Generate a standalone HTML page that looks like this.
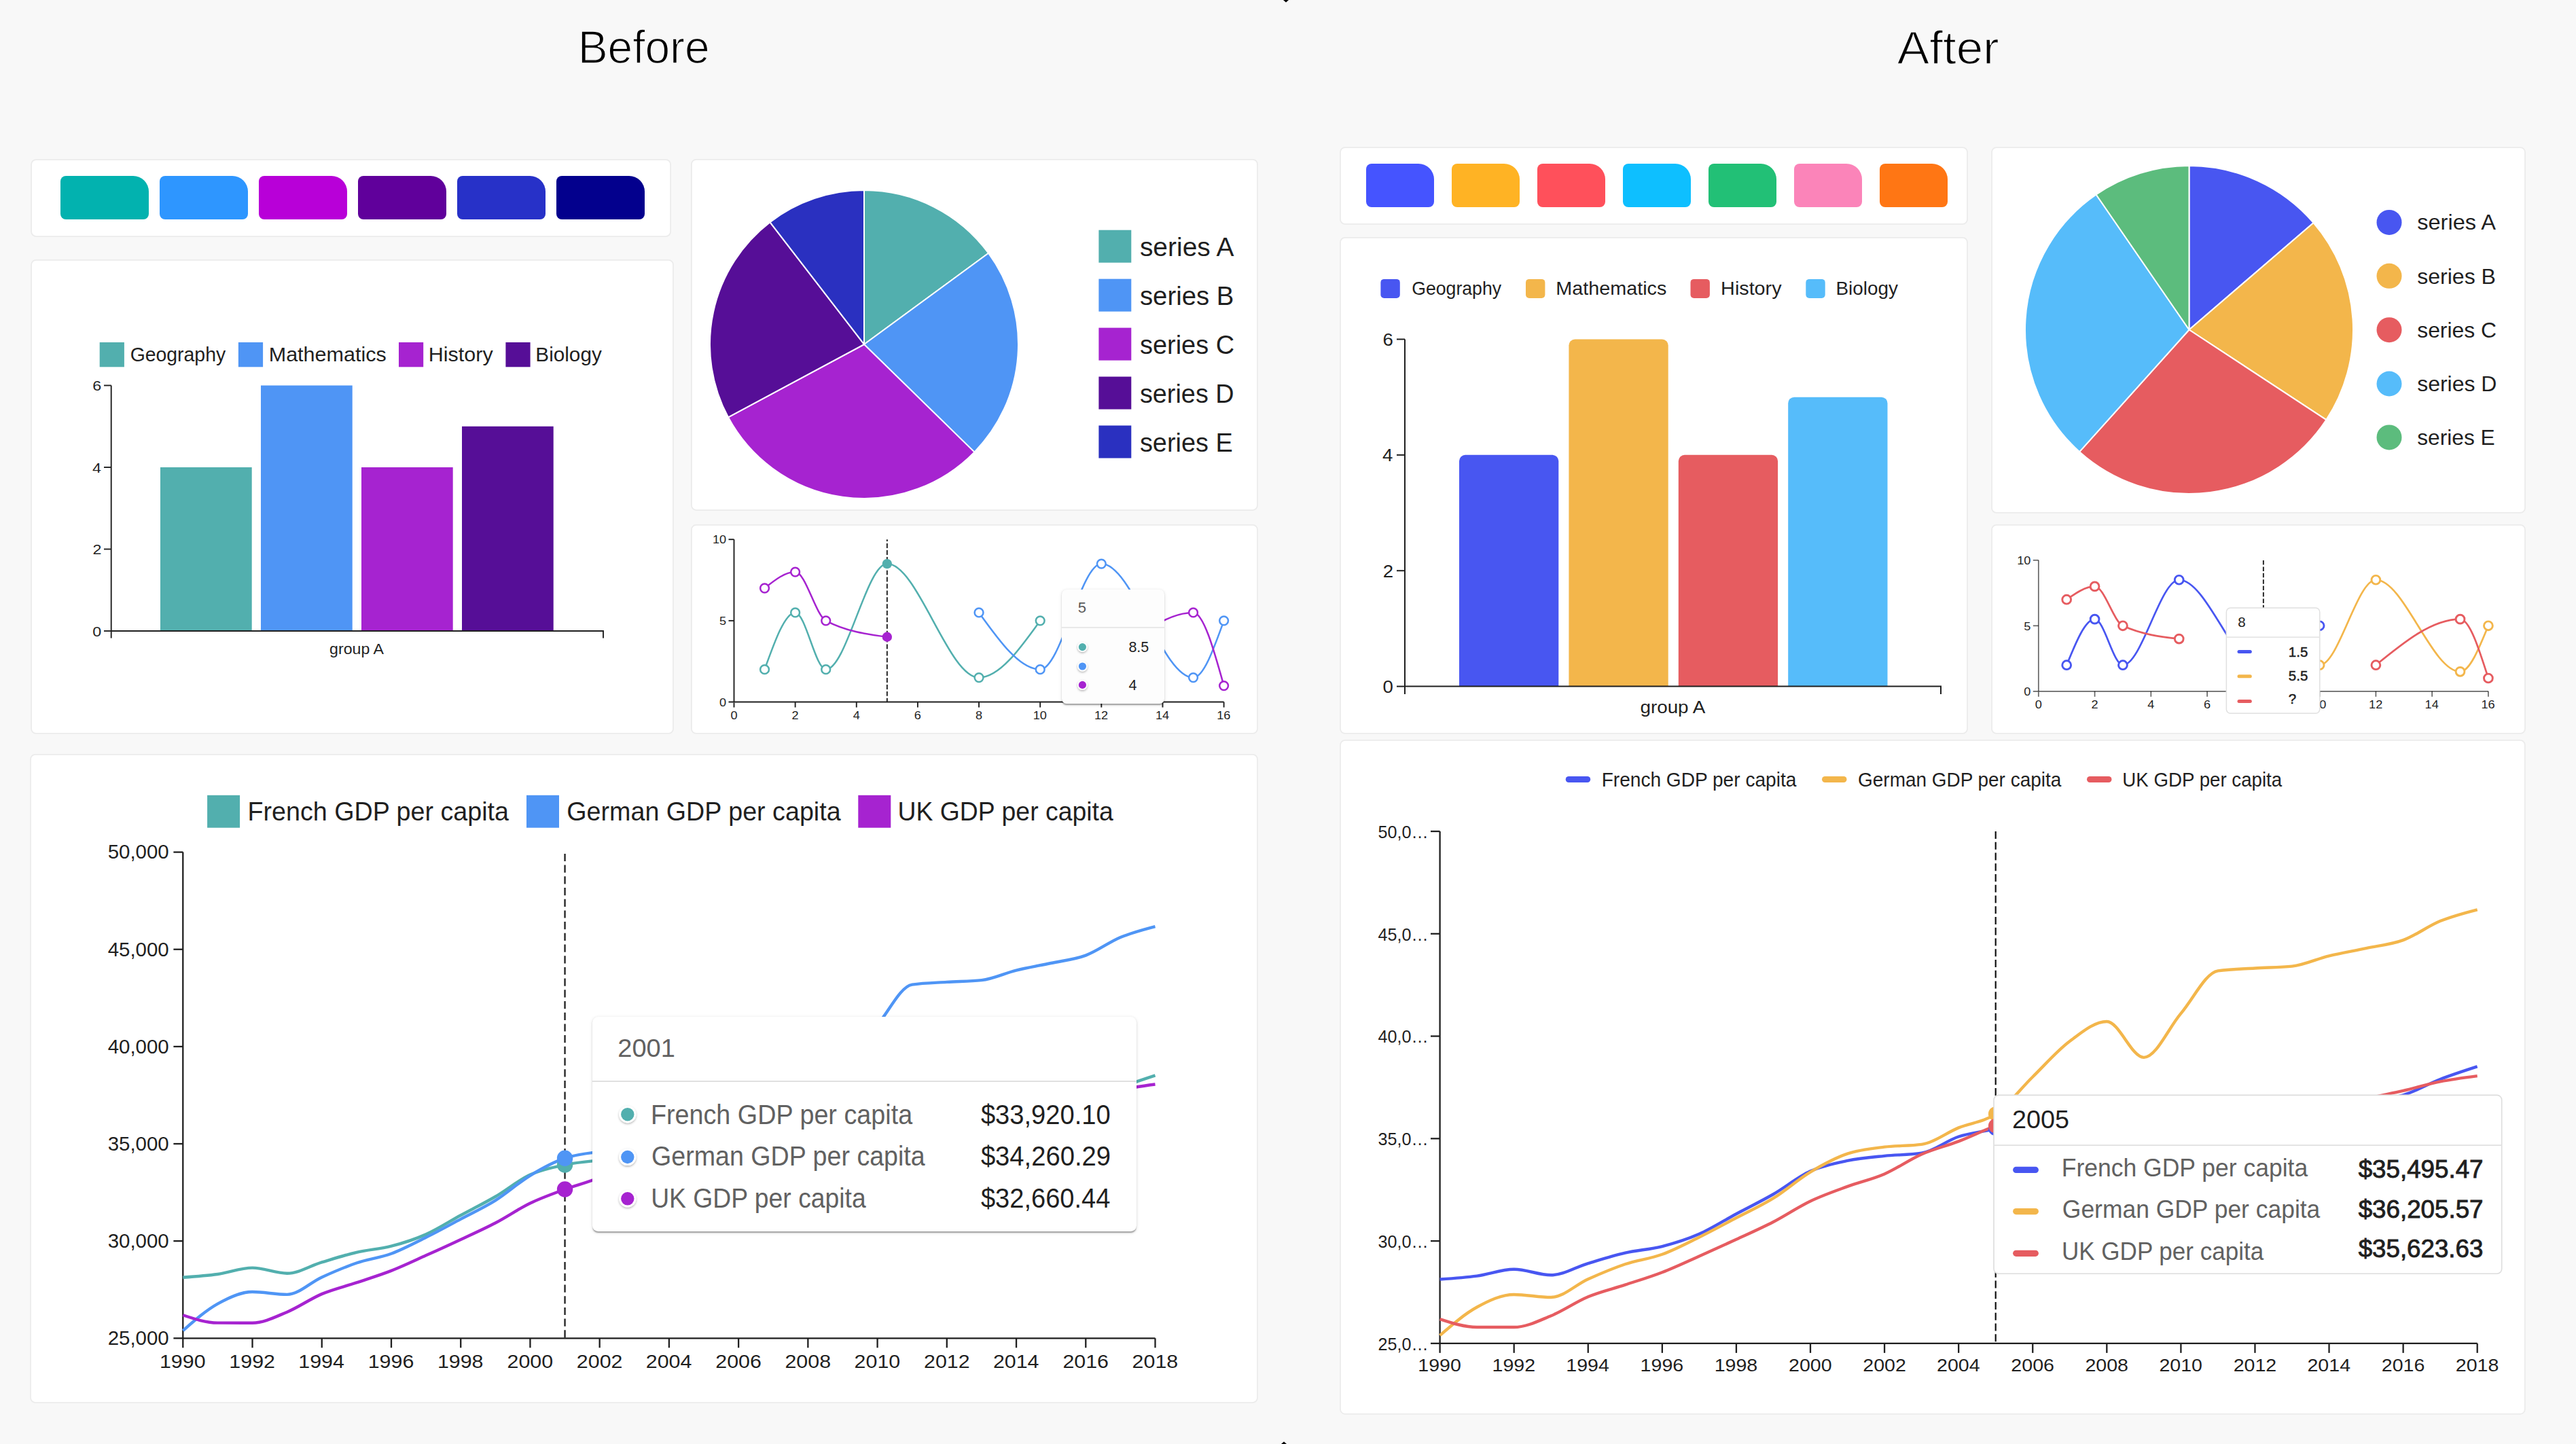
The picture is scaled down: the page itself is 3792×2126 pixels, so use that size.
<!DOCTYPE html>
<html><head><meta charset="utf-8"><title>Before / After</title>
<style>
html,body{margin:0;padding:0;background:#f8f8f8;}
body{width:3792px;height:2126px;overflow:hidden;font-family:"Liberation Sans", sans-serif;position:relative;}
svg{display:block;font-family:"Liberation Sans", sans-serif;position:absolute;left:0;top:0;}
.tt{position:absolute;box-sizing:border-box;box-shadow:0 3.5px 1.75px -1.75px rgba(0,0,0,0.2), 0 1.75px 1.75px 0 rgba(0,0,0,0.14), 0 1.75px 5.25px 0 rgba(0,0,0,0.12);}
</style></head>
<body>
<svg width="3792" height="2126" viewBox="0 0 3792 2126">
<rect width="3792" height="2126" fill="#f8f8f8"/>
<text x="850.7" y="93.4" font-size="68.46" fill="#000" textLength="193.91" lengthAdjust="spacingAndGlyphs" stroke="#f8f8f8" stroke-width="1.4">Before</text>
<text x="2792.86" y="93.5" font-size="68.31" fill="#000" textLength="149.87" lengthAdjust="spacingAndGlyphs" stroke="#f8f8f8" stroke-width="1.4">After</text>
<rect x="46.1" y="235" width="941" height="113" rx="7" fill="#fff" stroke="#ebebeb" stroke-width="1.75"/>
<path d="M97,259H196A23,23 0 0 1 219,282V315A8,8 0 0 1 211,323H97A8,8 0 0 1 89,315V267A8,8 0 0 1 97,259Z" fill="#02B2AF"/>
<path d="M243,259H342A23,23 0 0 1 365,282V315A8,8 0 0 1 357,323H243A8,8 0 0 1 235,315V267A8,8 0 0 1 243,259Z" fill="#2E96FF"/>
<path d="M389,259H488A23,23 0 0 1 511,282V315A8,8 0 0 1 503,323H389A8,8 0 0 1 381,315V267A8,8 0 0 1 389,259Z" fill="#B800D8"/>
<path d="M535,259H634A23,23 0 0 1 657,282V315A8,8 0 0 1 649,323H535A8,8 0 0 1 527,315V267A8,8 0 0 1 535,259Z" fill="#60009B"/>
<path d="M681,259H780A23,23 0 0 1 803,282V315A8,8 0 0 1 795,323H681A8,8 0 0 1 673,315V267A8,8 0 0 1 681,259Z" fill="#2731C8"/>
<path d="M827,259H926A23,23 0 0 1 949,282V315A8,8 0 0 1 941,323H827A8,8 0 0 1 819,315V267A8,8 0 0 1 827,259Z" fill="#03008D"/>
<rect x="46.1" y="382.9" width="944.9" height="697" rx="7" fill="#fff" stroke="#ebebeb" stroke-width="1.75"/>
<rect x="146.7" y="504" width="36.2" height="36.3" fill="#52AFAE"/>
<text x="191.68" y="531.8" font-size="29.51" fill="#1f1f1f" textLength="140.47" lengthAdjust="spacingAndGlyphs">Geography</text>
<rect x="350.9" y="504" width="36.2" height="36.3" fill="#4F95F5"/>
<text x="395.7" y="531.8" font-size="29.51" fill="#1f1f1f" textLength="173.12" lengthAdjust="spacingAndGlyphs">Mathematics</text>
<rect x="587" y="504" width="36.2" height="36.3" fill="#A623D0"/>
<text x="630.8" y="531.8" font-size="29.51" fill="#1f1f1f" textLength="94.87" lengthAdjust="spacingAndGlyphs">History</text>
<rect x="744.4" y="504" width="36.2" height="36.3" fill="#560E97"/>
<text x="788.37" y="531.8" font-size="29.51" fill="#1f1f1f" textLength="97.39" lengthAdjust="spacingAndGlyphs">Biology</text>
<rect x="236" y="688" width="134.7" height="241" fill="#52AFAE"/>
<rect x="384" y="567.5" width="134.7" height="361.5" fill="#4F95F5"/>
<rect x="532" y="688" width="134.7" height="241" fill="#A623D0"/>
<rect x="680" y="627.75" width="134.7" height="301.25" fill="#560E97"/>
<path d="M163.7,567.5V929H888V939.5M163.7,929V939.5" fill="none" stroke="#1f1f1f" stroke-width="1.9"/>
<line x1="153" y1="929" x2="163.7" y2="929" stroke="#1f1f1f" stroke-width="1.9"/>
<text x="136.16" y="936.76" font-size="20.8" fill="#1f1f1f" textLength="12.96" lengthAdjust="spacingAndGlyphs">0</text>
<line x1="153" y1="808.5" x2="163.7" y2="808.5" stroke="#1f1f1f" stroke-width="1.9"/>
<text x="136.41" y="816.26" font-size="20.8" fill="#1f1f1f" textLength="12.96" lengthAdjust="spacingAndGlyphs">2</text>
<line x1="153" y1="688" x2="163.7" y2="688" stroke="#1f1f1f" stroke-width="1.9"/>
<text x="135.92" y="695.76" font-size="20.8" fill="#1f1f1f" textLength="12.96" lengthAdjust="spacingAndGlyphs">4</text>
<line x1="153" y1="567.5" x2="163.7" y2="567.5" stroke="#1f1f1f" stroke-width="1.9"/>
<text x="136.27" y="575.26" font-size="20.8" fill="#1f1f1f" textLength="12.96" lengthAdjust="spacingAndGlyphs">6</text>
<text x="485.13" y="962.85" font-size="22.75" fill="#1f1f1f" textLength="79.72" lengthAdjust="spacingAndGlyphs">group A</text>
<rect x="1017.9" y="234.9" width="833.1" height="516.1" rx="7" fill="#fff" stroke="#ebebeb" stroke-width="1.75"/>
<path d="M1272,507L1272,280A227,227 0 0 1 1455.02,372.71Z" fill="#52AFAE" stroke="#fff" stroke-width="2" stroke-linejoin="round"/>
<path d="M1272,507L1455.02,372.71A227,227 0 0 1 1434.38,665.62Z" fill="#4F95F5" stroke="#fff" stroke-width="2" stroke-linejoin="round"/>
<path d="M1272,507L1434.38,665.62A227,227 0 0 1 1071.96,614.3Z" fill="#A623D0" stroke="#fff" stroke-width="2" stroke-linejoin="round"/>
<path d="M1272,507L1071.96,614.3A227,227 0 0 1 1133.46,327.18Z" fill="#560E97" stroke="#fff" stroke-width="2" stroke-linejoin="round"/>
<path d="M1272,507L1133.46,327.18A227,227 0 0 1 1272,280Z" fill="#2A30C0" stroke="#fff" stroke-width="2" stroke-linejoin="round"/>
<rect x="1617.4" y="338.7" width="47.9" height="48" fill="#52AFAE"/>
<text x="1677.91" y="376.8" font-size="38.95" fill="#1f1f1f" textLength="138.47" lengthAdjust="spacingAndGlyphs">series A</text>
<rect x="1617.4" y="410.65" width="47.9" height="48" fill="#4F95F5"/>
<text x="1677.93" y="448.75" font-size="38.95" fill="#1f1f1f" textLength="138.42" lengthAdjust="spacingAndGlyphs">series B</text>
<rect x="1617.4" y="482.6" width="47.9" height="48" fill="#A623D0"/>
<text x="1677.94" y="520.7" font-size="38.95" fill="#1f1f1f" textLength="139.12" lengthAdjust="spacingAndGlyphs">series C</text>
<rect x="1617.4" y="554.55" width="47.9" height="48" fill="#560E97"/>
<text x="1677.94" y="592.65" font-size="38.95" fill="#1f1f1f" textLength="138.69" lengthAdjust="spacingAndGlyphs">series D</text>
<rect x="1617.4" y="626.5" width="47.9" height="48" fill="#2A30C0"/>
<text x="1677.94" y="664.6" font-size="38.95" fill="#1f1f1f" textLength="136.8" lengthAdjust="spacingAndGlyphs">series E</text>
<rect x="1017.9" y="772.9" width="833.1" height="307" rx="7" fill="#fff" stroke="#ebebeb" stroke-width="1.75"/>
<g stroke="#1f1f1f" stroke-width="1.9" fill="none"><path d="M1080.5,794.2V1033.5"/><path d="M1072.5,1033.5H1801.6"/>
<line x1="1072.5" y1="913.85" x2="1080.5" y2="913.85"/>
<line x1="1072.5" y1="794.2" x2="1080.5" y2="794.2"/>
<line x1="1080.5" y1="1034.45" x2="1080.5" y2="1041.5"/>
<line x1="1170.64" y1="1033.5" x2="1170.64" y2="1041.5"/>
<line x1="1260.78" y1="1033.5" x2="1260.78" y2="1041.5"/>
<line x1="1350.91" y1="1033.5" x2="1350.91" y2="1041.5"/>
<line x1="1441.05" y1="1033.5" x2="1441.05" y2="1041.5"/>
<line x1="1531.19" y1="1033.5" x2="1531.19" y2="1041.5"/>
<line x1="1621.32" y1="1033.5" x2="1621.32" y2="1041.5"/>
<line x1="1711.46" y1="1033.5" x2="1711.46" y2="1041.5"/>
<line x1="1801.6" y1="1033.5" x2="1801.6" y2="1041.5"/>
</g>
<text x="1059.02" y="1039.78" font-size="16.5" fill="#1f1f1f" textLength="10.09" lengthAdjust="spacingAndGlyphs">0</text>
<text x="1059.07" y="920.13" font-size="16.5" fill="#1f1f1f" textLength="10.09" lengthAdjust="spacingAndGlyphs">5</text>
<text x="1048.93" y="800.48" font-size="16.5" fill="#1f1f1f" textLength="20.19" lengthAdjust="spacingAndGlyphs">10</text>
<text x="1075.45" y="1058.9" font-size="16.5" fill="#1f1f1f" textLength="10.09" lengthAdjust="spacingAndGlyphs">0</text>
<text x="1165.59" y="1058.9" font-size="16.5" fill="#1f1f1f" textLength="10.09" lengthAdjust="spacingAndGlyphs">2</text>
<text x="1255.78" y="1058.9" font-size="16.5" fill="#1f1f1f" textLength="10.09" lengthAdjust="spacingAndGlyphs">4</text>
<text x="1345.8" y="1058.9" font-size="16.5" fill="#1f1f1f" textLength="10.09" lengthAdjust="spacingAndGlyphs">6</text>
<text x="1436" y="1058.9" font-size="16.5" fill="#1f1f1f" textLength="10.09" lengthAdjust="spacingAndGlyphs">8</text>
<text x="1520.76" y="1058.9" font-size="16.5" fill="#1f1f1f" textLength="20.19" lengthAdjust="spacingAndGlyphs">10</text>
<text x="1611" y="1058.9" font-size="16.5" fill="#1f1f1f" textLength="20.19" lengthAdjust="spacingAndGlyphs">12</text>
<text x="1700.94" y="1058.9" font-size="16.5" fill="#1f1f1f" textLength="20.19" lengthAdjust="spacingAndGlyphs">14</text>
<text x="1791.22" y="1058.9" font-size="16.5" fill="#1f1f1f" textLength="20.19" lengthAdjust="spacingAndGlyphs">16</text>
<line x1="1305.84" y1="794.2" x2="1305.84" y2="1033.5" stroke="#1f1f1f" stroke-width="1.9" stroke-dasharray="6.9 3" stroke-dashoffset="4.0"/>
<path d="M1125.57,985.64C1140.59,943.76,1155.61,901.88,1170.64,901.88C1185.66,901.88,1200.68,985.64,1215.71,985.64C1245.75,985.64,1275.8,830.1,1305.84,830.1C1350.91,830.1,1395.98,997.61,1441.05,997.61C1471.1,997.61,1501.14,955.73,1531.19,913.85" fill="none" stroke="#52AFAE" stroke-width="2.5"/>
<path d="M1441.05,901.88C1471.1,943.76,1501.14,985.64,1531.19,985.64C1561.23,985.64,1591.28,830.1,1621.32,830.1C1666.39,830.1,1711.46,997.61,1756.53,997.61C1771.55,997.61,1786.58,955.73,1801.6,913.85" fill="none" stroke="#4F95F5" stroke-width="2.5"/>
<path d="M1125.57,865.99C1140.59,854.03,1155.61,842.06,1170.64,842.06C1185.66,842.06,1200.68,905.87,1215.71,913.85C1245.75,929.8,1275.8,933.79,1305.84,937.78" fill="none" stroke="#A623D0" stroke-width="2.5"/>
<path d="M1621.32,985.64C1666.39,943.76,1711.46,901.88,1756.53,901.88C1771.55,901.88,1786.58,955.73,1801.6,1009.57" fill="none" stroke="#A623D0" stroke-width="2.5"/>
<circle cx="1125.57" cy="985.64" r="6.4" fill="#fff" stroke="#52AFAE" stroke-width="2.5"/>
<circle cx="1170.64" cy="901.88" r="6.4" fill="#fff" stroke="#52AFAE" stroke-width="2.5"/>
<circle cx="1215.71" cy="985.64" r="6.4" fill="#fff" stroke="#52AFAE" stroke-width="2.5"/>
<circle cx="1305.84" cy="830.1" r="7.2" fill="#52AFAE"/>
<circle cx="1441.05" cy="997.61" r="6.4" fill="#fff" stroke="#52AFAE" stroke-width="2.5"/>
<circle cx="1531.19" cy="913.85" r="6.4" fill="#fff" stroke="#52AFAE" stroke-width="2.5"/>
<circle cx="1441.05" cy="901.88" r="6.4" fill="#fff" stroke="#4F95F5" stroke-width="2.5"/>
<circle cx="1531.19" cy="985.64" r="6.4" fill="#fff" stroke="#4F95F5" stroke-width="2.5"/>
<circle cx="1621.32" cy="830.1" r="6.4" fill="#fff" stroke="#4F95F5" stroke-width="2.5"/>
<circle cx="1756.53" cy="997.61" r="6.4" fill="#fff" stroke="#4F95F5" stroke-width="2.5"/>
<circle cx="1801.6" cy="913.85" r="6.4" fill="#fff" stroke="#4F95F5" stroke-width="2.5"/>
<circle cx="1125.57" cy="865.99" r="6.4" fill="#fff" stroke="#A623D0" stroke-width="2.5"/>
<circle cx="1170.64" cy="842.06" r="6.4" fill="#fff" stroke="#A623D0" stroke-width="2.5"/>
<circle cx="1215.71" cy="913.85" r="6.4" fill="#fff" stroke="#A623D0" stroke-width="2.5"/>
<circle cx="1305.84" cy="937.78" r="7.2" fill="#A623D0"/>
<circle cx="1621.32" cy="985.64" r="6.4" fill="#fff" stroke="#A623D0" stroke-width="2.5"/>
<circle cx="1756.53" cy="901.88" r="6.4" fill="#fff" stroke="#A623D0" stroke-width="2.5"/>
<circle cx="1801.6" cy="1009.57" r="6.4" fill="#fff" stroke="#A623D0" stroke-width="2.5"/>
<defs><filter id="sh" x="-20%" y="-20%" width="140%" height="150%"><feDropShadow dx="0" dy="2" stdDeviation="2.2" flood-color="#000" flood-opacity="0.22"/></filter><filter id="sh2" x="-20%" y="-20%" width="140%" height="150%"><feDropShadow dx="0" dy="1.5" stdDeviation="1.5" flood-color="#000" flood-opacity="0.3"/></filter></defs>
<rect x="45" y="1110.9" width="1806" height="954.1" rx="7" fill="#fff" stroke="#ebebeb" stroke-width="1.75"/>
<rect x="305.1" y="1170.8" width="48" height="47.9" fill="#52AFAE"/>
<text x="364.51" y="1207.8" font-size="39.68" fill="#1f1f1f" textLength="384.51" lengthAdjust="spacingAndGlyphs">French GDP per capita</text>
<rect x="775" y="1170.8" width="48" height="47.9" fill="#4F95F5"/>
<text x="834.32" y="1207.8" font-size="39.68" fill="#1f1f1f" textLength="403.3" lengthAdjust="spacingAndGlyphs">German GDP per capita</text>
<rect x="1263.3" y="1170.8" width="48" height="47.9" fill="#A623D0"/>
<text x="1321.42" y="1207.8" font-size="39.68" fill="#1f1f1f" textLength="317.39" lengthAdjust="spacingAndGlyphs">UK GDP per capita</text>
<path d="M269.3,1254.6V1970.3H1700.5" fill="none" stroke="#1f1f1f" stroke-width="2.3"/>
<line x1="255.4" y1="1970.3" x2="269.3" y2="1970.3" stroke="#1f1f1f" stroke-width="2.3"/>
<text x="158.67" y="1980.14" font-size="28.6" fill="#1f1f1f" textLength="90.1" lengthAdjust="spacingAndGlyphs">25,000</text>
<line x1="255.4" y1="1827.16" x2="269.3" y2="1827.16" stroke="#1f1f1f" stroke-width="2.3"/>
<text x="158.67" y="1837" font-size="28.6" fill="#1f1f1f" textLength="90.1" lengthAdjust="spacingAndGlyphs">30,000</text>
<line x1="255.4" y1="1684.02" x2="269.3" y2="1684.02" stroke="#1f1f1f" stroke-width="2.3"/>
<text x="158.67" y="1693.86" font-size="28.6" fill="#1f1f1f" textLength="90.1" lengthAdjust="spacingAndGlyphs">35,000</text>
<line x1="255.4" y1="1540.88" x2="269.3" y2="1540.88" stroke="#1f1f1f" stroke-width="2.3"/>
<text x="158.67" y="1550.72" font-size="28.6" fill="#1f1f1f" textLength="90.1" lengthAdjust="spacingAndGlyphs">40,000</text>
<line x1="255.4" y1="1397.74" x2="269.3" y2="1397.74" stroke="#1f1f1f" stroke-width="2.3"/>
<text x="158.67" y="1407.58" font-size="28.6" fill="#1f1f1f" textLength="90.1" lengthAdjust="spacingAndGlyphs">45,000</text>
<line x1="255.4" y1="1254.6" x2="269.3" y2="1254.6" stroke="#1f1f1f" stroke-width="2.3"/>
<text x="158.67" y="1264.44" font-size="28.6" fill="#1f1f1f" textLength="90.1" lengthAdjust="spacingAndGlyphs">50,000</text>
<line x1="269.3" y1="1970.3" x2="269.3" y2="1984.3" stroke="#1f1f1f" stroke-width="2.3"/>
<text x="234.96" y="2013.7" font-size="28" fill="#1f1f1f" textLength="67.58" lengthAdjust="spacingAndGlyphs">1990</text>
<line x1="371.53" y1="1970.3" x2="371.53" y2="1984.3" stroke="#1f1f1f" stroke-width="2.3"/>
<text x="337.35" y="2013.7" font-size="28" fill="#1f1f1f" textLength="67.58" lengthAdjust="spacingAndGlyphs">1992</text>
<line x1="473.76" y1="1970.3" x2="473.76" y2="1984.3" stroke="#1f1f1f" stroke-width="2.3"/>
<text x="439.26" y="2013.7" font-size="28" fill="#1f1f1f" textLength="67.58" lengthAdjust="spacingAndGlyphs">1994</text>
<line x1="575.99" y1="1970.3" x2="575.99" y2="1984.3" stroke="#1f1f1f" stroke-width="2.3"/>
<text x="541.72" y="2013.7" font-size="28" fill="#1f1f1f" textLength="67.58" lengthAdjust="spacingAndGlyphs">1996</text>
<line x1="678.21" y1="1970.3" x2="678.21" y2="1984.3" stroke="#1f1f1f" stroke-width="2.3"/>
<text x="643.93" y="2013.7" font-size="28" fill="#1f1f1f" textLength="67.58" lengthAdjust="spacingAndGlyphs">1998</text>
<line x1="780.44" y1="1970.3" x2="780.44" y2="1984.3" stroke="#1f1f1f" stroke-width="2.3"/>
<text x="746.49" y="2013.7" font-size="28" fill="#1f1f1f" textLength="67.58" lengthAdjust="spacingAndGlyphs">2000</text>
<line x1="882.67" y1="1970.3" x2="882.67" y2="1984.3" stroke="#1f1f1f" stroke-width="2.3"/>
<text x="848.89" y="2013.7" font-size="28" fill="#1f1f1f" textLength="67.58" lengthAdjust="spacingAndGlyphs">2002</text>
<line x1="984.9" y1="1970.3" x2="984.9" y2="1984.3" stroke="#1f1f1f" stroke-width="2.3"/>
<text x="950.8" y="2013.7" font-size="28" fill="#1f1f1f" textLength="67.58" lengthAdjust="spacingAndGlyphs">2004</text>
<line x1="1087.13" y1="1970.3" x2="1087.13" y2="1984.3" stroke="#1f1f1f" stroke-width="2.3"/>
<text x="1053.25" y="2013.7" font-size="28" fill="#1f1f1f" textLength="67.58" lengthAdjust="spacingAndGlyphs">2006</text>
<line x1="1189.36" y1="1970.3" x2="1189.36" y2="1984.3" stroke="#1f1f1f" stroke-width="2.3"/>
<text x="1155.47" y="2013.7" font-size="28" fill="#1f1f1f" textLength="67.58" lengthAdjust="spacingAndGlyphs">2008</text>
<line x1="1291.59" y1="1970.3" x2="1291.59" y2="1984.3" stroke="#1f1f1f" stroke-width="2.3"/>
<text x="1257.64" y="2013.7" font-size="28" fill="#1f1f1f" textLength="67.58" lengthAdjust="spacingAndGlyphs">2010</text>
<line x1="1393.81" y1="1970.3" x2="1393.81" y2="1984.3" stroke="#1f1f1f" stroke-width="2.3"/>
<text x="1360.03" y="2013.7" font-size="28" fill="#1f1f1f" textLength="67.58" lengthAdjust="spacingAndGlyphs">2012</text>
<line x1="1496.04" y1="1970.3" x2="1496.04" y2="1984.3" stroke="#1f1f1f" stroke-width="2.3"/>
<text x="1461.94" y="2013.7" font-size="28" fill="#1f1f1f" textLength="67.58" lengthAdjust="spacingAndGlyphs">2014</text>
<line x1="1598.27" y1="1970.3" x2="1598.27" y2="1984.3" stroke="#1f1f1f" stroke-width="2.3"/>
<text x="1564.4" y="2013.7" font-size="28" fill="#1f1f1f" textLength="67.58" lengthAdjust="spacingAndGlyphs">2016</text>
<line x1="1700.5" y1="1970.3" x2="1700.5" y2="1984.3" stroke="#1f1f1f" stroke-width="2.3"/>
<text x="1666.61" y="2013.7" font-size="28" fill="#1f1f1f" textLength="67.58" lengthAdjust="spacingAndGlyphs">2018</text>
<line x1="831.56" y1="1256.9" x2="831.56" y2="1970.3" stroke="#1f1f1f" stroke-width="2.3" stroke-dasharray="11.2 5.5"/>
<path d="M269.3,1880.72C286.34,1879.53,303.38,1878.33,320.41,1875.99C337.45,1873.65,354.49,1866.67,371.53,1866.67C388.57,1866.67,405.6,1874.79,422.64,1874.79C439.68,1874.79,456.72,1863.59,473.76,1858.42C490.8,1853.26,507.83,1847.75,524.87,1843.8C541.91,1839.84,558.95,1839.1,575.99,1834.7C593.02,1830.3,610.06,1824.94,627.1,1817.37C644.14,1809.81,661.18,1798.55,678.21,1789.28C695.25,1780.01,712.29,1771.71,729.33,1761.76C746.37,1751.8,763.4,1737.35,780.44,1729.55C797.48,1721.74,814.52,1718.48,831.56,1714.94C848.6,1711.39,865.63,1710.05,882.67,1708.27C899.71,1706.5,916.75,1706.95,933.79,1704.29C950.82,1701.63,967.86,1687.08,984.9,1681.33C1001.94,1675.59,1018.98,1674.95,1036.01,1669.84C1053.05,1664.72,1070.09,1657.08,1087.13,1650.64C1104.17,1644.19,1121.2,1631.18,1138.24,1631.18C1155.28,1631.18,1172.32,1631.98,1189.36,1633.58C1206.4,1635.18,1223.43,1668.71,1240.47,1668.71C1257.51,1668.71,1274.55,1658.43,1291.59,1652.91C1308.62,1647.39,1325.66,1635.61,1342.7,1635.61C1359.74,1635.61,1376.78,1639.05,1393.81,1639.05C1410.85,1639.05,1427.89,1637.3,1444.93,1637.3C1461.97,1637.3,1479,1640.31,1496.04,1640.31C1513.08,1640.31,1530.12,1634.57,1547.16,1631.72C1564.2,1628.87,1581.23,1628.31,1598.27,1623.21C1615.31,1618.12,1632.35,1607.78,1649.39,1601.14C1666.42,1594.5,1683.46,1588.93,1700.5,1583.37" fill="none" stroke="#52AFAE" stroke-width="4.4" stroke-linejoin="round"/>
<path d="M269.3,1959.11C286.34,1944.13,303.38,1929.14,320.41,1919.63C337.45,1910.12,354.49,1902.02,371.53,1902.02C388.57,1902.02,405.6,1905.87,422.64,1905.87C439.68,1905.87,456.72,1888.13,473.76,1880.41C490.8,1872.69,507.83,1865.31,524.87,1859.54C541.91,1853.77,558.95,1852.06,575.99,1845.77C593.02,1839.48,610.06,1830.3,627.1,1821.81C644.14,1813.32,661.18,1803.89,678.21,1794.82C695.25,1785.75,712.29,1778.07,729.33,1767.4C746.37,1756.72,763.4,1741.13,780.44,1730.76C797.48,1720.39,814.52,1711.03,831.56,1705.2C848.6,1699.36,865.63,1697.91,882.67,1695.73C899.71,1693.55,916.75,1694.53,933.79,1692.14C950.82,1689.74,967.86,1675.99,984.9,1668.88C1001.94,1661.78,1018.98,1661.37,1036.01,1649.51C1053.05,1637.65,1070.09,1614.65,1087.13,1597.73C1104.17,1580.81,1121.2,1560.86,1138.24,1547.97C1155.28,1535.09,1172.32,1520.4,1189.36,1520.4C1206.4,1520.4,1223.43,1570.57,1240.47,1570.57C1257.51,1570.57,1274.55,1529.28,1291.59,1509.11C1308.62,1488.95,1325.66,1452.09,1342.7,1449.59C1359.74,1447.09,1376.78,1446.9,1393.81,1445.84C1410.85,1444.77,1427.89,1444.95,1444.93,1443.17C1461.97,1441.4,1479,1432.8,1496.04,1428.6C1513.08,1424.4,1530.12,1421.64,1547.16,1417.98C1564.2,1414.32,1581.23,1412.97,1598.27,1406.64C1615.31,1400.31,1632.35,1387.1,1649.39,1380C1666.42,1372.89,1683.46,1368.46,1700.5,1364.03" fill="none" stroke="#4F95F5" stroke-width="4.4" stroke-linejoin="round"/>
<path d="M269.3,1936.26C286.34,1941.93,303.38,1947.59,320.41,1947.63C337.45,1947.66,354.49,1947.68,371.53,1947.68C388.57,1947.68,405.6,1938.77,422.64,1931.67C439.68,1924.57,456.72,1912.31,473.76,1905.1C490.8,1897.88,507.83,1894.09,524.87,1888.39C541.91,1882.69,558.95,1877.57,575.99,1870.9C593.02,1864.22,610.06,1856.01,627.1,1848.35C644.14,1840.69,661.18,1832.93,678.21,1824.94C695.25,1816.96,712.29,1809.38,729.33,1800.46C746.37,1791.55,763.4,1779.69,780.44,1771.45C797.48,1763.2,814.52,1757.32,831.56,1751C848.6,1744.67,865.63,1741.01,882.67,1733.51C899.71,1726.01,916.75,1713.6,933.79,1705.99C950.82,1698.39,967.86,1694.5,984.9,1687.86C1001.94,1681.22,1018.98,1672.6,1036.01,1666.17C1053.05,1659.73,1070.09,1654.96,1087.13,1649.26C1104.17,1643.57,1121.2,1632.01,1138.24,1632.01C1155.28,1632.01,1172.32,1637.28,1189.36,1647.81C1206.4,1658.34,1223.43,1701.13,1240.47,1701.13C1257.51,1701.13,1274.55,1693.76,1291.59,1691.05C1308.62,1688.34,1325.66,1686.9,1342.7,1684.85C1359.74,1682.8,1376.78,1681.81,1393.81,1678.72C1410.85,1675.64,1427.89,1672.3,1444.93,1666.33C1461.97,1660.36,1479,1649.22,1496.04,1642.91C1513.08,1636.6,1530.12,1632.74,1547.16,1628.45C1564.2,1624.17,1581.23,1621.22,1598.27,1617.2C1615.31,1613.19,1632.35,1607.81,1649.39,1604.35C1666.42,1600.9,1683.46,1598.69,1700.5,1596.47" fill="none" stroke="#A623D0" stroke-width="4.4" stroke-linejoin="round"/>
<circle cx="831.56" cy="1714.94" r="11.7" fill="#52AFAE"/>
<circle cx="831.56" cy="1705.2" r="11.7" fill="#4F95F5"/>
<circle cx="831.56" cy="1751" r="11.7" fill="#A623D0"/>
<rect x="1973" y="217.1" width="923" height="112.8" rx="7" fill="#fff" stroke="#ebebeb" stroke-width="1.75"/>
<path d="M2019,241H2088A23,23 0 0 1 2111,264V297A8,8 0 0 1 2103,305H2019A8,8 0 0 1 2011,297V249A8,8 0 0 1 2019,241Z" fill="#4554FF"/>
<path d="M2145,241H2214A23,23 0 0 1 2237,264V297A8,8 0 0 1 2229,305H2145A8,8 0 0 1 2137,297V249A8,8 0 0 1 2145,241Z" fill="#FFB324"/>
<path d="M2271,241H2340A23,23 0 0 1 2363,264V297A8,8 0 0 1 2355,305H2271A8,8 0 0 1 2263,297V249A8,8 0 0 1 2271,241Z" fill="#FF505B"/>
<path d="M2397,241H2466A23,23 0 0 1 2489,264V297A8,8 0 0 1 2481,305H2397A8,8 0 0 1 2389,297V249A8,8 0 0 1 2397,241Z" fill="#0EBFFF"/>
<path d="M2523,241H2592A23,23 0 0 1 2615,264V297A8,8 0 0 1 2607,305H2523A8,8 0 0 1 2515,297V249A8,8 0 0 1 2523,241Z" fill="#22C076"/>
<path d="M2649,241H2718A23,23 0 0 1 2741,264V297A8,8 0 0 1 2733,305H2649A8,8 0 0 1 2641,297V249A8,8 0 0 1 2649,241Z" fill="#FB84B9"/>
<path d="M2775,241H2844A23,23 0 0 1 2867,264V297A8,8 0 0 1 2859,305H2775A8,8 0 0 1 2767,297V249A8,8 0 0 1 2775,241Z" fill="#FF7614"/>
<rect x="1973" y="349.9" width="923" height="730" rx="7" fill="#fff" stroke="#ebebeb" stroke-width="1.75"/>
<rect x="2032.4" y="410.9" width="28.4" height="28" rx="5" fill="#4856F1"/>
<text x="2078.27" y="433.5" font-size="27.47" fill="#1f1f1f" textLength="131.78" lengthAdjust="spacingAndGlyphs">Geography</text>
<rect x="2246" y="410.9" width="28.4" height="28" rx="5" fill="#F3B64B"/>
<text x="2290.34" y="433.5" font-size="27.47" fill="#1f1f1f" textLength="163.01" lengthAdjust="spacingAndGlyphs">Mathematics</text>
<rect x="2488.5" y="410.9" width="28.4" height="28" rx="5" fill="#E65C60"/>
<text x="2533.14" y="433.5" font-size="27.47" fill="#1f1f1f" textLength="89.42" lengthAdjust="spacingAndGlyphs">History</text>
<rect x="2658.3" y="410.9" width="28.4" height="28" rx="5" fill="#56BCFA"/>
<text x="2702.51" y="433.5" font-size="27.47" fill="#1f1f1f" textLength="91.44" lengthAdjust="spacingAndGlyphs">Biology</text>
<path d="M2157,669.87H2285.3A9,9 0 0 1 2294.3,678.87V1010.6A0,0 0 0 1 2294.3,1010.6H2148A0,0 0 0 1 2148,1010.6V678.87A9,9 0 0 1 2157,669.87Z" fill="#4856F1"/>
<path d="M2318.4,499.5H2446.7A9,9 0 0 1 2455.7,508.5V1010.6A0,0 0 0 1 2455.7,1010.6H2309.4A0,0 0 0 1 2309.4,1010.6V508.5A9,9 0 0 1 2318.4,499.5Z" fill="#F3B64B"/>
<path d="M2479.8,669.87H2608.1A9,9 0 0 1 2617.1,678.87V1010.6A0,0 0 0 1 2617.1,1010.6H2470.8A0,0 0 0 1 2470.8,1010.6V678.87A9,9 0 0 1 2479.8,669.87Z" fill="#E65C60"/>
<path d="M2641.2,584.68H2769.5A9,9 0 0 1 2778.5,593.68V1010.6A0,0 0 0 1 2778.5,1010.6H2632.2A0,0 0 0 1 2632.2,1010.6V593.68A9,9 0 0 1 2641.2,584.68Z" fill="#56BCFA"/>
<path d="M2068,499.5V1010.6H2857V1022M2068,1010.6V1022" fill="none" stroke="#1f1f1f" stroke-width="2"/>
<line x1="2056" y1="1010.6" x2="2068" y2="1010.6" stroke="#1f1f1f" stroke-width="2"/>
<text x="2035.41" y="1019.97" font-size="24.9" fill="#1f1f1f" textLength="15.37" lengthAdjust="spacingAndGlyphs">0</text>
<line x1="2056" y1="840.23" x2="2068" y2="840.23" stroke="#1f1f1f" stroke-width="2"/>
<text x="2035.71" y="849.6" font-size="24.9" fill="#1f1f1f" textLength="15.37" lengthAdjust="spacingAndGlyphs">2</text>
<line x1="2056" y1="669.87" x2="2068" y2="669.87" stroke="#1f1f1f" stroke-width="2"/>
<text x="2035.13" y="679.23" font-size="24.9" fill="#1f1f1f" textLength="15.37" lengthAdjust="spacingAndGlyphs">4</text>
<line x1="2056" y1="499.5" x2="2068" y2="499.5" stroke="#1f1f1f" stroke-width="2"/>
<text x="2035.55" y="508.87" font-size="24.9" fill="#1f1f1f" textLength="15.37" lengthAdjust="spacingAndGlyphs">6</text>
<text x="2414.43" y="1049.9" font-size="26.31" fill="#1f1f1f" textLength="95.93" lengthAdjust="spacingAndGlyphs">group A</text>
<rect x="2932" y="217.1" width="785" height="537.8" rx="7" fill="#fff" stroke="#ebebeb" stroke-width="1.75"/>
<path d="M3222.5,485.5L3222.5,244A241.5,241.5 0 0 1 3405.63,328.07Z" fill="#4856F1" stroke="#fff" stroke-width="2" stroke-linejoin="round"/>
<path d="M3222.5,485.5L3405.63,328.07A241.5,241.5 0 0 1 3424.38,618.05Z" fill="#F3B64B" stroke="#fff" stroke-width="2" stroke-linejoin="round"/>
<path d="M3222.5,485.5L3424.38,618.05A241.5,241.5 0 0 1 3061.16,665.2Z" fill="#E65C60" stroke="#fff" stroke-width="2" stroke-linejoin="round"/>
<path d="M3222.5,485.5L3061.16,665.2A241.5,241.5 0 0 1 3085.64,286.52Z" fill="#56BCFA" stroke="#fff" stroke-width="2" stroke-linejoin="round"/>
<path d="M3222.5,485.5L3085.64,286.52A241.5,241.5 0 0 1 3222.5,244Z" fill="#5CBC7D" stroke="#fff" stroke-width="2" stroke-linejoin="round"/>
<circle cx="3517" cy="327.4" r="18.5" fill="#4856F1"/>
<text x="3558.19" y="338.4" font-size="30.52" fill="#1f1f1f" textLength="115.78" lengthAdjust="spacingAndGlyphs">series A</text>
<circle cx="3517" cy="406.3" r="18.5" fill="#F3B64B"/>
<text x="3558.2" y="417.8" font-size="30.52" fill="#1f1f1f" textLength="115.81" lengthAdjust="spacingAndGlyphs">series B</text>
<circle cx="3517" cy="485.7" r="18.5" fill="#E65C60"/>
<text x="3558.21" y="496.7" font-size="30.52" fill="#1f1f1f" textLength="116.92" lengthAdjust="spacingAndGlyphs">series C</text>
<circle cx="3517" cy="565" r="18.5" fill="#56BCFA"/>
<text x="3558.2" y="575.8" font-size="30.52" fill="#1f1f1f" textLength="117.25" lengthAdjust="spacingAndGlyphs">series D</text>
<circle cx="3517" cy="643.9" r="18.5" fill="#5CBC7D"/>
<text x="3558.21" y="654.7" font-size="30.52" fill="#1f1f1f" textLength="114.46" lengthAdjust="spacingAndGlyphs">series E</text>
<rect x="2932" y="772.9" width="785" height="307" rx="7" fill="#fff" stroke="#ebebeb" stroke-width="1.75"/>
<g stroke="rgba(0,0,0,0.6)" stroke-width="1.7" fill="none"><path d="M3000.8,824.8V1017.8"/><path d="M2992.8,1017.8H3662.9"/>
<line x1="2992.8" y1="921.3" x2="3000.8" y2="921.3"/>
<line x1="2992.8" y1="824.8" x2="3000.8" y2="824.8"/>
<line x1="3000.8" y1="1018.65" x2="3000.8" y2="1025.8"/>
<line x1="3083.56" y1="1017.8" x2="3083.56" y2="1025.8"/>
<line x1="3166.33" y1="1017.8" x2="3166.33" y2="1025.8"/>
<line x1="3249.09" y1="1017.8" x2="3249.09" y2="1025.8"/>
<line x1="3331.85" y1="1017.8" x2="3331.85" y2="1025.8"/>
<line x1="3414.61" y1="1017.8" x2="3414.61" y2="1025.8"/>
<line x1="3497.38" y1="1017.8" x2="3497.38" y2="1025.8"/>
<line x1="3580.14" y1="1017.8" x2="3580.14" y2="1025.8"/>
<line x1="3662.9" y1="1017.8" x2="3662.9" y2="1025.8"/>
</g>
<text x="2979.32" y="1024.08" font-size="16.5" fill="#1f1f1f" textLength="10.09" lengthAdjust="spacingAndGlyphs">0</text>
<text x="2979.37" y="927.58" font-size="16.5" fill="#1f1f1f" textLength="10.09" lengthAdjust="spacingAndGlyphs">5</text>
<text x="2969.23" y="831.08" font-size="16.5" fill="#1f1f1f" textLength="20.19" lengthAdjust="spacingAndGlyphs">10</text>
<text x="2995.75" y="1043.4" font-size="16.5" fill="#1f1f1f" textLength="10.09" lengthAdjust="spacingAndGlyphs">0</text>
<text x="3078.52" y="1043.4" font-size="16.5" fill="#1f1f1f" textLength="10.09" lengthAdjust="spacingAndGlyphs">2</text>
<text x="3161.33" y="1043.4" font-size="16.5" fill="#1f1f1f" textLength="10.09" lengthAdjust="spacingAndGlyphs">4</text>
<text x="3243.98" y="1043.4" font-size="16.5" fill="#1f1f1f" textLength="10.09" lengthAdjust="spacingAndGlyphs">6</text>
<text x="3326.8" y="1043.4" font-size="16.5" fill="#1f1f1f" textLength="10.09" lengthAdjust="spacingAndGlyphs">8</text>
<text x="3404.19" y="1043.4" font-size="16.5" fill="#1f1f1f" textLength="20.19" lengthAdjust="spacingAndGlyphs">10</text>
<text x="3487.05" y="1043.4" font-size="16.5" fill="#1f1f1f" textLength="20.19" lengthAdjust="spacingAndGlyphs">12</text>
<text x="3569.62" y="1043.4" font-size="16.5" fill="#1f1f1f" textLength="20.19" lengthAdjust="spacingAndGlyphs">14</text>
<text x="3652.52" y="1043.4" font-size="16.5" fill="#1f1f1f" textLength="20.19" lengthAdjust="spacingAndGlyphs">16</text>
<line x1="3331.85" y1="824.8" x2="3331.85" y2="1017.8" stroke="#1f1f1f" stroke-width="1.9" stroke-dasharray="6.5 2.9" stroke-dashoffset="-0.2"/>
<path d="M3042.18,979.2C3055.97,945.42,3069.77,911.65,3083.56,911.65C3097.36,911.65,3111.15,979.2,3124.94,979.2C3152.53,979.2,3180.12,853.75,3207.71,853.75C3249.09,853.75,3290.47,988.85,3331.85,988.85C3359.44,988.85,3387.03,955.07,3414.61,921.3" fill="none" stroke="#4856F1" stroke-width="2.7"/>
<path d="M3331.85,911.65C3359.44,945.42,3387.03,979.2,3414.61,979.2C3442.2,979.2,3469.79,853.75,3497.38,853.75C3538.76,853.75,3580.14,988.85,3621.52,988.85C3635.31,988.85,3649.11,955.07,3662.9,921.3" fill="none" stroke="#F3B64B" stroke-width="2.7"/>
<path d="M3042.18,882.7C3055.97,873.05,3069.77,863.4,3083.56,863.4C3097.36,863.4,3111.15,914.87,3124.94,921.3C3152.53,934.17,3180.12,937.38,3207.71,940.6" fill="none" stroke="#E65C60" stroke-width="2.7"/>
<path d="M3497.38,979.2C3538.76,945.42,3580.14,911.65,3621.52,911.65C3635.31,911.65,3649.11,955.08,3662.9,998.5" fill="none" stroke="#E65C60" stroke-width="2.7"/>
<circle cx="3042.18" cy="979.2" r="6.4" fill="#fff" stroke="#4856F1" stroke-width="2.9"/>
<circle cx="3083.56" cy="911.65" r="6.4" fill="#fff" stroke="#4856F1" stroke-width="2.9"/>
<circle cx="3124.94" cy="979.2" r="6.4" fill="#fff" stroke="#4856F1" stroke-width="2.9"/>
<circle cx="3207.71" cy="853.75" r="6.4" fill="#fff" stroke="#4856F1" stroke-width="2.9"/>
<circle cx="3331.85" cy="988.85" r="6.4" fill="#fff" stroke="#4856F1" stroke-width="2.9"/>
<circle cx="3414.61" cy="921.3" r="6.4" fill="#fff" stroke="#4856F1" stroke-width="2.9"/>
<circle cx="3331.85" cy="911.65" r="6.4" fill="#fff" stroke="#F3B64B" stroke-width="2.9"/>
<circle cx="3414.61" cy="979.2" r="6.4" fill="#fff" stroke="#F3B64B" stroke-width="2.9"/>
<circle cx="3497.38" cy="853.75" r="6.4" fill="#fff" stroke="#F3B64B" stroke-width="2.9"/>
<circle cx="3621.52" cy="988.85" r="6.4" fill="#fff" stroke="#F3B64B" stroke-width="2.9"/>
<circle cx="3662.9" cy="921.3" r="6.4" fill="#fff" stroke="#F3B64B" stroke-width="2.9"/>
<circle cx="3042.18" cy="882.7" r="6.4" fill="#fff" stroke="#E65C60" stroke-width="2.9"/>
<circle cx="3083.56" cy="863.4" r="6.4" fill="#fff" stroke="#E65C60" stroke-width="2.9"/>
<circle cx="3124.94" cy="921.3" r="6.4" fill="#fff" stroke="#E65C60" stroke-width="2.9"/>
<circle cx="3207.71" cy="940.6" r="6.4" fill="#fff" stroke="#E65C60" stroke-width="2.9"/>
<circle cx="3497.38" cy="979.2" r="6.4" fill="#fff" stroke="#E65C60" stroke-width="2.9"/>
<circle cx="3621.52" cy="911.65" r="6.4" fill="#fff" stroke="#E65C60" stroke-width="2.9"/>
<circle cx="3662.9" cy="998.5" r="6.4" fill="#fff" stroke="#E65C60" stroke-width="2.9"/>
<rect x="3277.35" y="895.05" width="137.4" height="155.2" rx="6" fill="#fff" stroke="#e0e0e0" stroke-width="1.5"/>
<text x="3294.3" y="923" font-size="20.5" fill="#1f1f1f" text-anchor="start">8</text>
<line x1="3278" y1="938" x2="3414.5" y2="938" stroke="#e6e6e6" stroke-width="1.75"/>
<line x1="3296" y1="959.5" x2="3312.3" y2="959.5" stroke="#4856F1" stroke-width="5" stroke-linecap="round"/>
<text x="3368.8" y="966.9" font-size="20.5" fill="#1f1f1f" text-anchor="start" stroke="#1f1f1f" stroke-width="0.5">1.5</text>
<line x1="3296" y1="995.7" x2="3312.3" y2="995.7" stroke="#F3B64B" stroke-width="5" stroke-linecap="round"/>
<text x="3368.8" y="1001.5" font-size="20.5" fill="#1f1f1f" text-anchor="start" stroke="#1f1f1f" stroke-width="0.5">5.5</text>
<line x1="3296" y1="1032.4" x2="3312.3" y2="1032.4" stroke="#E65C60" stroke-width="5" stroke-linecap="round"/>
<text x="3368.8" y="1035.8" font-size="20.5" fill="#1f1f1f" text-anchor="start" stroke="#1f1f1f" stroke-width="0.5">?</text>
<rect x="1973" y="1089.9" width="1743.8" height="991.9" rx="7" fill="#fff" stroke="#ebebeb" stroke-width="1.75"/>
<line x1="2309.2" y1="1147.5" x2="2336.7" y2="1147.5" stroke="#4856F1" stroke-width="9" stroke-linecap="round"/>
<text x="2357.7" y="1157.7" font-size="29.22" fill="#1f1f1f" textLength="286.62" lengthAdjust="spacingAndGlyphs">French GDP per capita</text>
<line x1="2686.5" y1="1147.5" x2="2714" y2="1147.5" stroke="#F3B64B" stroke-width="9" stroke-linecap="round"/>
<text x="2735.1" y="1157.7" font-size="29.22" fill="#1f1f1f" textLength="299.11" lengthAdjust="spacingAndGlyphs">German GDP per capita</text>
<line x1="3076.5" y1="1147.5" x2="3104" y2="1147.5" stroke="#E65C60" stroke-width="9" stroke-linecap="round"/>
<text x="3124.37" y="1157.7" font-size="29.22" fill="#1f1f1f" textLength="234.84" lengthAdjust="spacingAndGlyphs">UK GDP per capita</text>
<path d="M2119.6,1224V1977.9H3646.7" fill="none" stroke="#1f1f1f" stroke-width="2.3"/>
<line x1="2106" y1="1977.9" x2="2119.6" y2="1977.9" stroke="#1f1f1f" stroke-width="2.3"/>
<text x="2028.53" y="1987.81" font-size="25.9" fill="#1f1f1f" textLength="74.1" lengthAdjust="spacingAndGlyphs">25,0…</text>
<line x1="2106" y1="1827.12" x2="2119.6" y2="1827.12" stroke="#1f1f1f" stroke-width="2.3"/>
<text x="2028.53" y="1837.03" font-size="25.9" fill="#1f1f1f" textLength="74.1" lengthAdjust="spacingAndGlyphs">30,0…</text>
<line x1="2106" y1="1676.34" x2="2119.6" y2="1676.34" stroke="#1f1f1f" stroke-width="2.3"/>
<text x="2028.53" y="1686.25" font-size="25.9" fill="#1f1f1f" textLength="74.1" lengthAdjust="spacingAndGlyphs">35,0…</text>
<line x1="2106" y1="1525.56" x2="2119.6" y2="1525.56" stroke="#1f1f1f" stroke-width="2.3"/>
<text x="2028.53" y="1535.47" font-size="25.9" fill="#1f1f1f" textLength="74.1" lengthAdjust="spacingAndGlyphs">40,0…</text>
<line x1="2106" y1="1374.78" x2="2119.6" y2="1374.78" stroke="#1f1f1f" stroke-width="2.3"/>
<text x="2028.53" y="1384.69" font-size="25.9" fill="#1f1f1f" textLength="74.1" lengthAdjust="spacingAndGlyphs">45,0…</text>
<line x1="2106" y1="1224" x2="2119.6" y2="1224" stroke="#1f1f1f" stroke-width="2.3"/>
<text x="2028.53" y="1233.91" font-size="25.9" fill="#1f1f1f" textLength="74.1" lengthAdjust="spacingAndGlyphs">50,0…</text>
<line x1="2119.6" y1="1977.9" x2="2119.6" y2="1991.9" stroke="#1f1f1f" stroke-width="2.3"/>
<text x="2087.3" y="2019" font-size="26.7" fill="#1f1f1f" textLength="63.56" lengthAdjust="spacingAndGlyphs">1990</text>
<line x1="2228.68" y1="1977.9" x2="2228.68" y2="1991.9" stroke="#1f1f1f" stroke-width="2.3"/>
<text x="2196.54" y="2019" font-size="26.7" fill="#1f1f1f" textLength="63.56" lengthAdjust="spacingAndGlyphs">1992</text>
<line x1="2337.76" y1="1977.9" x2="2337.76" y2="1991.9" stroke="#1f1f1f" stroke-width="2.3"/>
<text x="2305.32" y="2019" font-size="26.7" fill="#1f1f1f" textLength="63.56" lengthAdjust="spacingAndGlyphs">1994</text>
<line x1="2446.84" y1="1977.9" x2="2446.84" y2="1991.9" stroke="#1f1f1f" stroke-width="2.3"/>
<text x="2414.61" y="2019" font-size="26.7" fill="#1f1f1f" textLength="63.56" lengthAdjust="spacingAndGlyphs">1996</text>
<line x1="2555.91" y1="1977.9" x2="2555.91" y2="1991.9" stroke="#1f1f1f" stroke-width="2.3"/>
<text x="2523.67" y="2019" font-size="26.7" fill="#1f1f1f" textLength="63.56" lengthAdjust="spacingAndGlyphs">1998</text>
<line x1="2664.99" y1="1977.9" x2="2664.99" y2="1991.9" stroke="#1f1f1f" stroke-width="2.3"/>
<text x="2633.07" y="2019" font-size="26.7" fill="#1f1f1f" textLength="63.56" lengthAdjust="spacingAndGlyphs">2000</text>
<line x1="2774.07" y1="1977.9" x2="2774.07" y2="1991.9" stroke="#1f1f1f" stroke-width="2.3"/>
<text x="2742.3" y="2019" font-size="26.7" fill="#1f1f1f" textLength="63.56" lengthAdjust="spacingAndGlyphs">2002</text>
<line x1="2883.15" y1="1977.9" x2="2883.15" y2="1991.9" stroke="#1f1f1f" stroke-width="2.3"/>
<text x="2851.08" y="2019" font-size="26.7" fill="#1f1f1f" textLength="63.56" lengthAdjust="spacingAndGlyphs">2004</text>
<line x1="2992.23" y1="1977.9" x2="2992.23" y2="1991.9" stroke="#1f1f1f" stroke-width="2.3"/>
<text x="2960.37" y="2019" font-size="26.7" fill="#1f1f1f" textLength="63.56" lengthAdjust="spacingAndGlyphs">2006</text>
<line x1="3101.31" y1="1977.9" x2="3101.31" y2="1991.9" stroke="#1f1f1f" stroke-width="2.3"/>
<text x="3069.44" y="2019" font-size="26.7" fill="#1f1f1f" textLength="63.56" lengthAdjust="spacingAndGlyphs">2008</text>
<line x1="3210.39" y1="1977.9" x2="3210.39" y2="1991.9" stroke="#1f1f1f" stroke-width="2.3"/>
<text x="3178.46" y="2019" font-size="26.7" fill="#1f1f1f" textLength="63.56" lengthAdjust="spacingAndGlyphs">2010</text>
<line x1="3319.46" y1="1977.9" x2="3319.46" y2="1991.9" stroke="#1f1f1f" stroke-width="2.3"/>
<text x="3287.7" y="2019" font-size="26.7" fill="#1f1f1f" textLength="63.56" lengthAdjust="spacingAndGlyphs">2012</text>
<line x1="3428.54" y1="1977.9" x2="3428.54" y2="1991.9" stroke="#1f1f1f" stroke-width="2.3"/>
<text x="3396.47" y="2019" font-size="26.7" fill="#1f1f1f" textLength="63.56" lengthAdjust="spacingAndGlyphs">2014</text>
<line x1="3537.62" y1="1977.9" x2="3537.62" y2="1991.9" stroke="#1f1f1f" stroke-width="2.3"/>
<text x="3505.77" y="2019" font-size="26.7" fill="#1f1f1f" textLength="63.56" lengthAdjust="spacingAndGlyphs">2016</text>
<line x1="3646.7" y1="1977.9" x2="3646.7" y2="1991.9" stroke="#1f1f1f" stroke-width="2.3"/>
<text x="3614.83" y="2019" font-size="26.7" fill="#1f1f1f" textLength="63.56" lengthAdjust="spacingAndGlyphs">2018</text>
<line x1="2937.69" y1="1224" x2="2937.69" y2="1977.9" stroke="#111" stroke-width="2.2" stroke-dasharray="10.9 4.85"/>
<path d="M2119.6,1883.54C2137.78,1882.28,2155.96,1881.02,2174.14,1878.56C2192.32,1876.09,2210.5,1868.74,2228.68,1868.74C2246.86,1868.74,2265.04,1877.29,2283.22,1877.29C2301.4,1877.29,2319.58,1865.49,2337.76,1860.05C2355.94,1854.61,2374.12,1848.81,2392.3,1844.64C2410.48,1840.48,2428.66,1839.7,2446.84,1835.06C2465.02,1830.42,2483.2,1824.79,2501.38,1816.81C2519.55,1808.84,2537.73,1796.99,2555.91,1787.22C2574.09,1777.46,2592.27,1768.71,2610.45,1758.23C2628.63,1747.74,2646.81,1732.52,2664.99,1724.3C2683.17,1716.08,2701.35,1712.64,2719.53,1708.91C2737.71,1705.17,2755.89,1703.76,2774.07,1701.89C2792.25,1700.02,2810.43,1700.49,2828.61,1697.69C2846.79,1694.89,2864.97,1679.56,2883.15,1673.51C2901.33,1667.46,2919.51,1666.79,2937.69,1661.4C2955.87,1656.01,2974.05,1647.96,2992.23,1641.17C3010.41,1634.39,3028.59,1620.68,3046.77,1620.68C3064.95,1620.68,3083.13,1621.52,3101.31,1623.21C3119.49,1624.9,3137.67,1660.21,3155.85,1660.21C3174.03,1660.21,3192.21,1649.38,3210.39,1643.57C3228.57,1637.76,3246.75,1625.35,3264.93,1625.35C3283.1,1625.35,3301.28,1628.96,3319.46,1628.96C3337.64,1628.96,3355.82,1627.13,3374,1627.13C3392.18,1627.13,3410.36,1630.29,3428.54,1630.29C3446.72,1630.29,3464.9,1624.25,3483.08,1621.24C3501.26,1618.24,3519.44,1617.66,3537.62,1612.29C3555.8,1606.92,3573.98,1596.03,3592.16,1589.04C3610.34,1582.04,3628.52,1576.18,3646.7,1570.31" fill="none" stroke="#4856F1" stroke-width="4.4" stroke-linejoin="round"/>
<path d="M2119.6,1966.11C2137.78,1950.33,2155.96,1934.55,2174.14,1924.53C2192.32,1914.5,2210.5,1905.98,2228.68,1905.98C2246.86,1905.98,2265.04,1910.03,2283.22,1910.03C2301.4,1910.03,2319.58,1891.34,2337.76,1883.21C2355.94,1875.08,2374.12,1867.31,2392.3,1861.23C2410.48,1855.15,2428.66,1853.35,2446.84,1846.72C2465.02,1840.1,2483.2,1830.43,2501.38,1821.48C2519.55,1812.54,2537.73,1802.61,2555.91,1793.06C2574.09,1783.5,2592.27,1775.41,2610.45,1764.17C2628.63,1752.92,2646.81,1736.5,2664.99,1725.58C2683.17,1714.66,2701.35,1704.8,2719.53,1698.65C2737.71,1692.5,2755.89,1690.97,2774.07,1688.68C2792.25,1686.38,2810.43,1687.41,2828.61,1684.89C2846.79,1682.37,2864.97,1667.88,2883.15,1660.4C2901.33,1652.91,2919.51,1652.48,2937.69,1639.98C2955.87,1627.49,2974.05,1603.27,2992.23,1585.45C3010.41,1567.62,3028.59,1546.61,3046.77,1533.03C3064.95,1519.46,3083.13,1503.99,3101.31,1503.99C3119.49,1503.99,3137.67,1556.83,3155.85,1556.83C3174.03,1556.83,3192.21,1513.34,3210.39,1492.1C3228.57,1470.86,3246.75,1432.03,3264.93,1429.39C3283.1,1426.76,3301.28,1426.57,3319.46,1425.44C3337.64,1424.32,3355.82,1424.51,3374,1422.64C3392.18,1420.77,3410.36,1411.71,3428.54,1407.29C3446.72,1402.87,3464.9,1399.96,3483.08,1396.1C3501.26,1392.25,3519.44,1390.83,3537.62,1384.16C3555.8,1377.49,3573.98,1363.57,3592.16,1356.09C3610.34,1348.61,3628.52,1343.94,3646.7,1339.27" fill="none" stroke="#F3B64B" stroke-width="4.4" stroke-linejoin="round"/>
<path d="M2119.6,1942.04C2137.78,1948.01,2155.96,1953.98,2174.14,1954.02C2192.32,1954.05,2210.5,1954.07,2228.68,1954.07C2246.86,1954.07,2265.04,1944.68,2283.22,1937.21C2301.4,1929.73,2319.58,1916.82,2337.76,1909.22C2355.94,1901.62,2374.12,1897.62,2392.3,1891.62C2410.48,1885.61,2428.66,1880.22,2446.84,1873.19C2465.02,1866.16,2483.2,1857.51,2501.38,1849.44C2519.55,1841.38,2537.73,1833.19,2555.91,1824.79C2574.09,1816.38,2592.27,1808.39,2610.45,1799C2628.63,1789.61,2646.81,1777.12,2664.99,1768.44C2683.17,1759.75,2701.35,1753.55,2719.53,1746.89C2737.71,1740.23,2755.89,1736.37,2774.07,1728.47C2792.25,1720.57,2810.43,1707.5,2828.61,1699.49C2846.79,1691.47,2864.97,1687.38,2883.15,1680.39C2901.33,1673.4,2919.51,1664.31,2937.69,1657.53C2955.87,1650.76,2974.05,1645.72,2992.23,1639.73C3010.41,1633.73,3028.59,1621.56,3046.77,1621.56C3064.95,1621.56,3083.13,1627.1,3101.31,1638.2C3119.49,1649.29,3137.67,1694.36,3155.85,1694.36C3174.03,1694.36,3192.21,1686.6,3210.39,1683.74C3228.57,1680.89,3246.75,1679.38,3264.93,1677.21C3283.1,1675.05,3301.28,1674.01,3319.46,1670.76C3337.64,1667.51,3355.82,1663.99,3374,1657.7C3392.18,1651.42,3410.36,1639.69,3428.54,1633.04C3446.72,1626.39,3464.9,1622.32,3483.08,1617.81C3501.26,1613.29,3519.44,1610.19,3537.62,1605.96C3555.8,1601.72,3573.98,1596.06,3592.16,1592.42C3610.34,1588.78,3628.52,1586.45,3646.7,1584.12" fill="none" stroke="#E65C60" stroke-width="4.4" stroke-linejoin="round"/>
<circle cx="2937.69" cy="1661.4" r="10.8" fill="#4856F1"/>
<circle cx="2937.69" cy="1639.98" r="10.8" fill="#F3B64B"/>
<circle cx="2937.69" cy="1657.53" r="10.8" fill="#E65C60"/>
<rect x="2935" y="1612.4" width="747.7" height="262.8" rx="7" fill="#fff" stroke="#dddddd" stroke-width="1.6"/>
<text x="2962.11" y="1661.1" font-size="36.82" fill="#1f1f1f" textLength="84" lengthAdjust="spacingAndGlyphs">2005</text>
<line x1="2935.8" y1="1686.2" x2="3682.9" y2="1686.2" stroke="#e0e0e0" stroke-width="1.75"/>
<line x1="2967.7" y1="1722.4" x2="2996.3" y2="1722.4" stroke="#4856F1" stroke-width="9.2" stroke-linecap="round"/>
<text x="3034.69" y="1732.1" font-size="37.35" fill="#616161" textLength="362.53" lengthAdjust="spacingAndGlyphs">French GDP per capita</text>
<text x="3471.7" y="1734.2" font-size="36.25" fill="#1f1f1f" textLength="183.84" lengthAdjust="spacingAndGlyphs" stroke="#1f1f1f" stroke-width="0.9">$35,495.47</text>
<line x1="2967.7" y1="1783.6" x2="2996.3" y2="1783.6" stroke="#F3B64B" stroke-width="9.2" stroke-linecap="round"/>
<text x="3035.83" y="1793.3" font-size="37.35" fill="#616161" textLength="379.49" lengthAdjust="spacingAndGlyphs">German GDP per capita</text>
<text x="3471.7" y="1793.1" font-size="36.25" fill="#1f1f1f" textLength="183.84" lengthAdjust="spacingAndGlyphs" stroke="#1f1f1f" stroke-width="0.9">$36,205.57</text>
<line x1="2967.7" y1="1845.3" x2="2996.3" y2="1845.3" stroke="#E65C60" stroke-width="9.2" stroke-linecap="round"/>
<text x="3034.9" y="1854.6" font-size="37.35" fill="#616161" textLength="297.41" lengthAdjust="spacingAndGlyphs">UK GDP per capita</text>
<text x="3471.7" y="1851.4" font-size="36.25" fill="#1f1f1f" textLength="183.61" lengthAdjust="spacingAndGlyphs" stroke="#1f1f1f" stroke-width="0.9">$35,623.63</text>
<path d="M1889,0H1897L1893,3.5Z" fill="#000"/>
<path d="M1886,2126H1894L1890,2122.5Z" fill="#000"/>
</svg>
<div class="tt" style="left:1562.8px;top:867.5px;width:151.4px;height:168.8px;border-radius:7px;background:#fdfdfd;"></div>
<div class="tt" style="left:871.6px;top:1496.5px;width:801.1px;height:316.8px;border-radius:8.5px;background:#fff;"></div>
<svg width="3792" height="2126" viewBox="0 0 3792 2126">
<text x="1586.8" y="902.4" font-size="22" fill="#595959" text-anchor="start">5</text>
<line x1="1562.8" y1="923.8" x2="1714.2" y2="923.8" stroke="#e6e6e6" stroke-width="1.75"/>
<circle cx="1593.4" cy="952.6" r="7.4" fill="#fff" filter="url(#sh2)"/>
<circle cx="1593.4" cy="952.6" r="5.6" fill="#52AFAE"/>
<text x="1661.4" y="960.3" font-size="21.5" fill="#1f1f1f" text-anchor="start">8.5</text>
<circle cx="1593.4" cy="981" r="7.4" fill="#fff" filter="url(#sh2)"/>
<circle cx="1593.4" cy="981" r="5.6" fill="#4F95F5"/>
<circle cx="1593.4" cy="1008.4" r="7.4" fill="#fff" filter="url(#sh2)"/>
<circle cx="1593.4" cy="1008.4" r="5.6" fill="#A623D0"/>
<text x="1661.4" y="1016.1" font-size="21.5" fill="#1f1f1f" text-anchor="start">4</text>
<text x="909.3" y="1556.3" font-size="37.68" fill="#616161" textLength="84.59" lengthAdjust="spacingAndGlyphs">2001</text>
<line x1="871.6" y1="1592" x2="1672.7" y2="1592" stroke="#e0e0e0" stroke-width="2"/>
<circle cx="923.8" cy="1640.7" r="12.6" fill="#fff" filter="url(#sh2)"/>
<circle cx="923.8" cy="1640.7" r="9.7" fill="#52AFAE"/>
<text x="957.91" y="1654.6" font-size="40.84" fill="#616161" textLength="385.21" lengthAdjust="spacingAndGlyphs">French GDP per capita</text>
<text x="1443.88" y="1654.6" font-size="40.26" fill="#1f1f1f" textLength="190.9" lengthAdjust="spacingAndGlyphs">$33,920.10</text>
<circle cx="923.8" cy="1703.5" r="12.6" fill="#fff" filter="url(#sh2)"/>
<circle cx="923.8" cy="1703.5" r="9.7" fill="#4F95F5"/>
<text x="959.12" y="1716.2" font-size="40.84" fill="#616161" textLength="402.6" lengthAdjust="spacingAndGlyphs">German GDP per capita</text>
<text x="1443.88" y="1716.2" font-size="40.26" fill="#1f1f1f" textLength="191.21" lengthAdjust="spacingAndGlyphs">$34,260.29</text>
<circle cx="923.8" cy="1764.8" r="12.6" fill="#fff" filter="url(#sh2)"/>
<circle cx="923.8" cy="1764.8" r="9.7" fill="#A623D0"/>
<text x="958.13" y="1777.9" font-size="40.84" fill="#616161" textLength="316.59" lengthAdjust="spacingAndGlyphs">UK GDP per capita</text>
<text x="1443.88" y="1777.9" font-size="40.26" fill="#1f1f1f" textLength="190.52" lengthAdjust="spacingAndGlyphs">$32,660.44</text>
</svg>
</body></html>
